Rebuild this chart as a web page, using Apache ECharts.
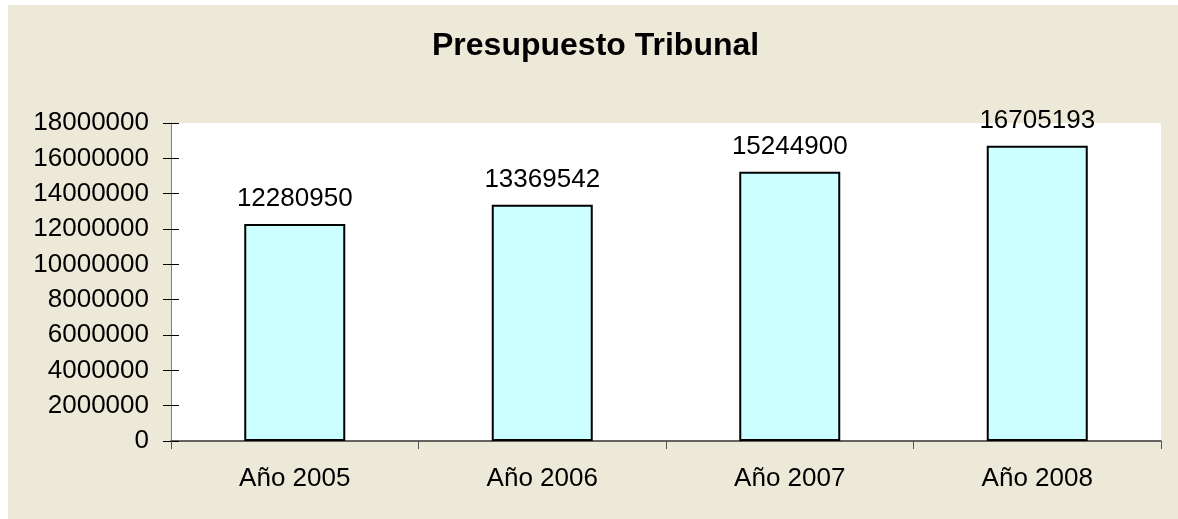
<!DOCTYPE html>
<html>
<head>
<meta charset="utf-8">
<script src="https://cdn.jsdelivr.net/npm/echarts@6/dist/echarts.min.js"></script>
<style>
html,body{margin:0;padding:0;background:#fff;}
#c{width:1178px;height:519px;}
</style>
</head>
<body>
<div id="c"></div>
<script>
var title = 'Presupuesto Tribunal';
var categories = ['Año 2005', 'Año 2006', 'Año 2007', 'Año 2008'];
var values = [12280950, 13369542, 15244900, 16705193];
var yMin = 0, yMax = 18000000, yStep = 2000000;

var chart = echarts.init(document.getElementById('c'), null, {renderer: 'canvas'});
var FONT = '"Liberation Sans", Arial, sans-serif';
chart.setOption({
  animation: false,
  backgroundColor: '#ffffff',
  graphic: [{
    type: 'rect', left: 8, top: 5, z: -10,
    shape: {width: 1170, height: 514},
    style: {fill: '#ECE9D8'}
  }],
  title: {
    text: title, left: 427, top: 25,
    textStyle: {fontFamily: FONT, fontSize: 32, fontWeight: 'bold', color: '#000'}
  },
  grid: {
    left: 171, right: 17, top: 123, bottom: 78,
    show: true, backgroundColor: '#ffffff', borderWidth: 0
  },
  xAxis: {
    type: 'category', data: categories,
    axisLine: {lineStyle: {color: '#333', width: 1.5}},
    axisTick: {show: true, length: 8, lineStyle: {color: '#555', width: 1}},
    axisLabel: {fontFamily: FONT, fontSize: 26, color: '#000', margin: 25}
  },
  yAxis: [{
    type: 'value', min: yMin, max: yMax, interval: yStep, position: 'left',
    splitLine: {show: false},
    axisLine: {show: true, lineStyle: {color: '#808080', width: 1}},
    axisTick: {show: true, length: 8, lineStyle: {color: '#000', width: 1}},
    axisLabel: {fontFamily: FONT, fontSize: 26, color: '#000', margin: 22,
      formatter: function (v) { return String(v); }}
  }, {
    type: 'value', min: yMin, max: yMax, interval: yStep, position: 'left',
    splitLine: {show: false},
    axisLine: {show: false},
    axisTick: {show: true, inside: true, length: 8, lineStyle: {color: '#000', width: 1}},
    axisLabel: {show: false}
  }],
  series: [{
    type: 'bar', data: values, yAxisIndex: 0, barWidth: 101,
    itemStyle: {color: '#CCFFFF', borderColor: '#000', borderWidth: 2},
    label: {
      show: true, position: 'top', distance: 12,
      fontFamily: FONT, fontSize: 26, color: '#000'
    }
  }]
});
</script>
</body>
</html>
